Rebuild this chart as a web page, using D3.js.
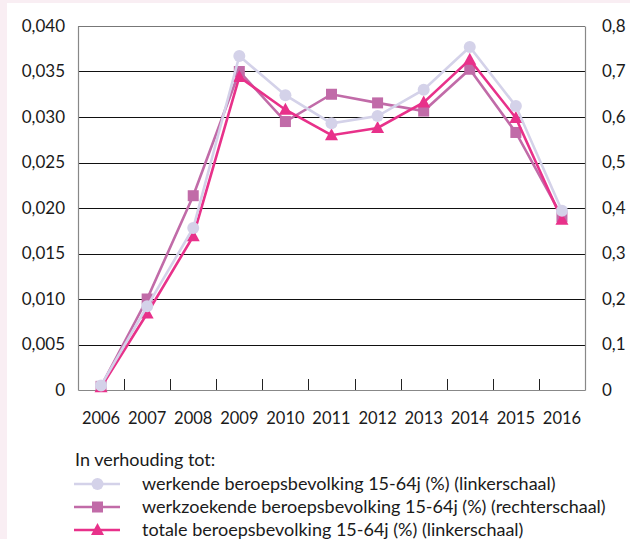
<!DOCTYPE html>
<html><head><meta charset="utf-8">
<script src="https://cdn.jsdelivr.net/npm/d3@7"></script>
<style>
html,body{margin:0;padding:0;background:#fff;}
svg{display:block;}
</style></head>
<body>
<svg id="chart" width="630" height="539"></svg>
<script>
const years = ["2006","2007","2008","2009","2010","2011","2012","2013","2014","2015","2016"];
const werkende = [0.0005,0.0092,0.0178,0.0367,0.0324,0.0293,0.0301,0.0330,0.0377,0.0312,0.0197];
const werkzoekende = [0.008,0.200,0.427,0.700,0.590,0.650,0.631,0.613,0.705,0.566,0.381];
const totale = [0.0003,0.0084,0.0169,0.0344,0.0308,0.0280,0.0288,0.0316,0.0363,0.0299,0.0187];
const leftTicks = [0,0.005,0.010,0.015,0.020,0.025,0.030,0.035,0.040];
const rightTicks = [0,0.1,0.2,0.3,0.4,0.5,0.6,0.7,0.8];
const legendTitle = "In verhouding tot:";
const legendLabels = [
  "werkende beroepsbevolking 15-64j (%) (linkerschaal)",
  "werkzoekende beroepsbevolking 15-64j (%) (rechterschaal)",
  "totale beroepsbevolking 15-64j (%) (linkerschaal)"
];

const font = "Lato, 'Open Sans', sans-serif";
const textColor = "#1a1a1a";
const svg = d3.select("#chart");
svg.append("rect").attr("x",0).attr("y",0).attr("width",630).attr("height",539).attr("fill","#f9eef3");
svg.append("rect").attr("x",7).attr("y",3).attr("width",623).attr("height",536).attr("fill","#fff");

const m = {l:78, t:26, r:585, b:390};
const x = d3.scaleBand().domain(years).range([m.l, m.r]);
const yL = d3.scaleLinear().domain([0,0.04]).range([m.b, m.t]);
const yR = d3.scaleLinear().domain([0,0.8]).range([m.b, m.t]);
const fmtL = d => d===0 ? "0" : d3.format(".3f")(d).replace(".",",");
const fmtR = d => d===0 ? "0" : d3.format(".1f")(d).replace(".",",");

svg.append("g").selectAll("line").data(leftTicks.filter(d=>d>0)).join("line")
  .attr("x1",m.l).attr("x2",m.r).attr("y1",d=>Math.round(yL(d))+0.5).attr("y2",d=>Math.round(yL(d))+0.5)
  .attr("stroke",d=>d===0.04?"#777":"#111").attr("stroke-width",1);

const gl = svg.append("g").attr("transform",`translate(${m.l},0)`)
  .call(d3.axisLeft(yL).tickValues(leftTicks).tickFormat(fmtL).tickSize(0).tickPadding(13));
gl.select(".domain").attr("stroke","#888").attr("stroke-width",1.2);
gl.selectAll("text").attr("font-family",font).attr("font-size",17).attr("fill",textColor);

const gr = svg.append("g").attr("transform",`translate(${m.r},0)`)
  .call(d3.axisRight(yR).tickValues(rightTicks).tickFormat(fmtR).tickSize(0).tickPadding(17));
gr.select(".domain").attr("stroke","#888").attr("stroke-width",1.2);
gr.selectAll("text").attr("font-family",font).attr("font-size",17).attr("fill",textColor);

const gb = svg.append("g").attr("transform",`translate(0,${m.b})`)
  .call(d3.axisBottom(x).tickSize(0).tickPadding(22));
gb.select(".domain").attr("stroke","#888").attr("stroke-width",1.2);
gb.selectAll("text").attr("font-family",font).attr("font-size",16.5).attr("fill",textColor);
svg.append("g").selectAll("line").data(years.slice(1)).join("line")
  .attr("x1",d=>Math.round(x(d))+0.5).attr("x2",d=>Math.round(x(d))+0.5)
  .attr("y1",m.b-11).attr("y2",m.b).attr("stroke","#222").attr("stroke-width",1);

const cx = d => x(d) + x.bandwidth()/2;
const series = [
  {vals: werkzoekende, y: yR, color:"#c16ba8", shape:"square"},
  {vals: totale, y: yL, color:"#e8318a", shape:"triangle"},
  {vals: werkende, y: yL, color:"#d4d2e9", shape:"circle"}
];
function drawMarker(g, shape, color, px, py){
  if(shape==="circle") g.append("circle").attr("cx",px).attr("cy",py).attr("r",6).attr("fill",color);
  else if(shape==="square") g.append("rect").attr("x",px-5.5).attr("y",py-5.5).attr("width",11).attr("height",11).attr("fill",color);
  else g.append("path").attr("d",`M${px},${py-7}L${px+6.5},${py+5}L${px-6.5},${py+5}Z`).attr("fill",color);
}
series.forEach(s=>{
  const line = d3.line().x((d,i)=>cx(years[i])).y(d=>s.y(d));
  const g = svg.append("g");
  g.append("path").attr("d",line(s.vals)).attr("fill","none").attr("stroke",s.color).attr("stroke-width",2.6);
  s.vals.forEach((v,i)=>drawMarker(g, s.shape, s.color, cx(years[i]), s.y(v)));
});

svg.append("text").attr("x",75).attr("y",466).text(legendTitle)
  .attr("font-family",font).attr("font-size",18).attr("fill",textColor);
const legOrder = [series[2], series[0], series[1]];
legOrder.forEach((s,i)=>{
  const ly = 484 + i*23;
  const g = svg.append("g");
  g.append("line").attr("x1",74).attr("x2",120).attr("y1",ly).attr("y2",ly).attr("stroke",s.color).attr("stroke-width",2.6);
  drawMarker(g, s.shape, s.color, 97.5, ly);
  svg.append("text").attr("x",142).attr("y",ly+6).text(legendLabels[i])
    .attr("font-family",font).attr("font-size",18).attr("fill",textColor);
});
</script>
</body></html>
